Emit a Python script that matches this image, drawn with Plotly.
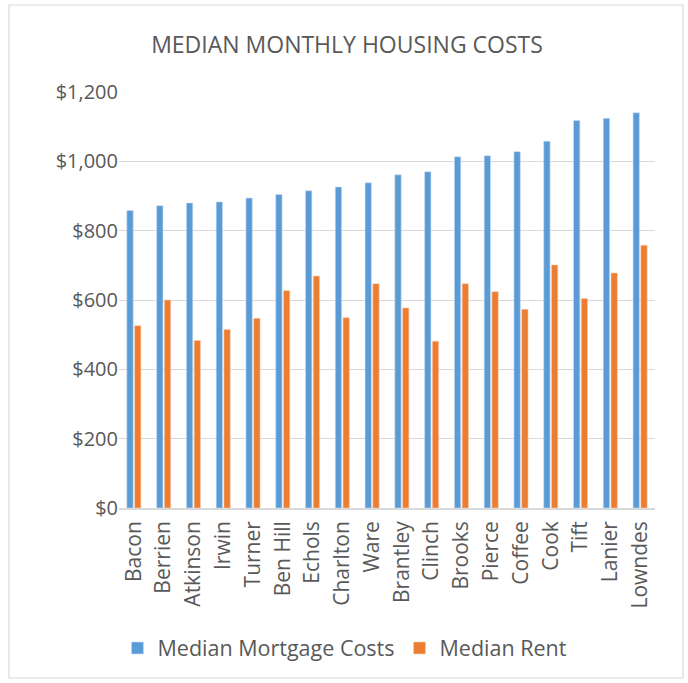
import plotly.graph_objects as go

counties = ["Bacon", "Berrien", "Atkinson", "Irwin", "Turner", "Ben Hill", "Echols",
            "Charlton", "Ware", "Brantley", "Clinch", "Brooks", "Pierce", "Coffee",
            "Cook", "Tift", "Lanier", "Lowndes"]
mortgage = [858, 872, 880, 883, 894, 904, 915, 926, 938, 961, 970, 1013, 1016, 1028,
            1058, 1118, 1124, 1140]
rent = [526, 600, 483, 515, 547, 627, 669, 549, 647, 577, 481, 647, 624, 573,
        701, 604, 678, 758]
tick_vals = [0, 200, 400, 600, 800, 1000, 1200]
tick_text = ["$0", "$200", "$400", "$600", "$800", "$1,000", "$1,200"]

FONT = "Open Sans"
TXT = "#595959"

fig = go.Figure()
fig.add_trace(go.Bar(x=counties, y=mortgage, name="Median Mortgage Costs",
                     marker=dict(color="#5B9BD5", line=dict(color="#C9DDF1", width=0.6))))
fig.add_trace(go.Bar(x=counties, y=rent, name="Median Rent",
                     marker=dict(color="#ED7D31", line=dict(color="#F8CFB3", width=0.6))))

W, H = 688, 683
L, R, T, B = 119, 33, 92, 175
pw, ph = W - L - R, H - T - B

def px2paper_x(x):
    return (x - L) / pw

def px2paper_y(y):
    return (H - B - y) / ph

fig.update_layout(
    width=W, height=H,
    margin=dict(l=L, r=R, t=T, b=B, autoexpand=False),
    paper_bgcolor="white", plot_bgcolor="white",
    font=dict(family=FONT, color=TXT, size=20),
    title=dict(text="MEDIAN MONTHLY HOUSING COSTS", x=347 / W, xanchor="center",
               y=1 - 45 / H, yanchor="middle", yref="container", xref="container",
               font=dict(size=23, color=TXT, family=FONT)),
    barmode="group", bargap=0.48, bargroupgap=0.18,
    showlegend=True,
    legend=dict(orientation="h", x=345 / W, xanchor="center", xref="container",
                y=1 - 648 / H, yanchor="middle", yref="container",
                font=dict(size=21.5, color=TXT), itemwidth=30, traceorder="normal"),
    xaxis=dict(tickangle=-90, tickfont=dict(size=21, color=TXT), showgrid=False,
               showline=True, linecolor="#D9D9D9", linewidth=1.5, ticks="",
               ticklabelstandoff=3),
    yaxis=dict(range=[0, 1200], tickvals=tick_vals, ticktext=tick_text,
               tickfont=dict(size=20, color=TXT), showgrid=True, gridcolor="#D9D9D9",
               gridwidth=1.2, zeroline=False, showline=False, ticks="", ticklen=0),
    shapes=[dict(type="rect", xref="paper", yref="paper",
                 x0=px2paper_x(9), x1=px2paper_x(683),
                 y0=px2paper_y(678), y1=px2paper_y(5),
                 line=dict(color="#D9D9D9", width=1.2), fillcolor="rgba(0,0,0,0)",
                 layer="below")],
)

fig.write_html("out.html", config={"displayModeBar": False},
               post_script="document.body.style.margin='0';document.body.style.overflow='hidden';")
